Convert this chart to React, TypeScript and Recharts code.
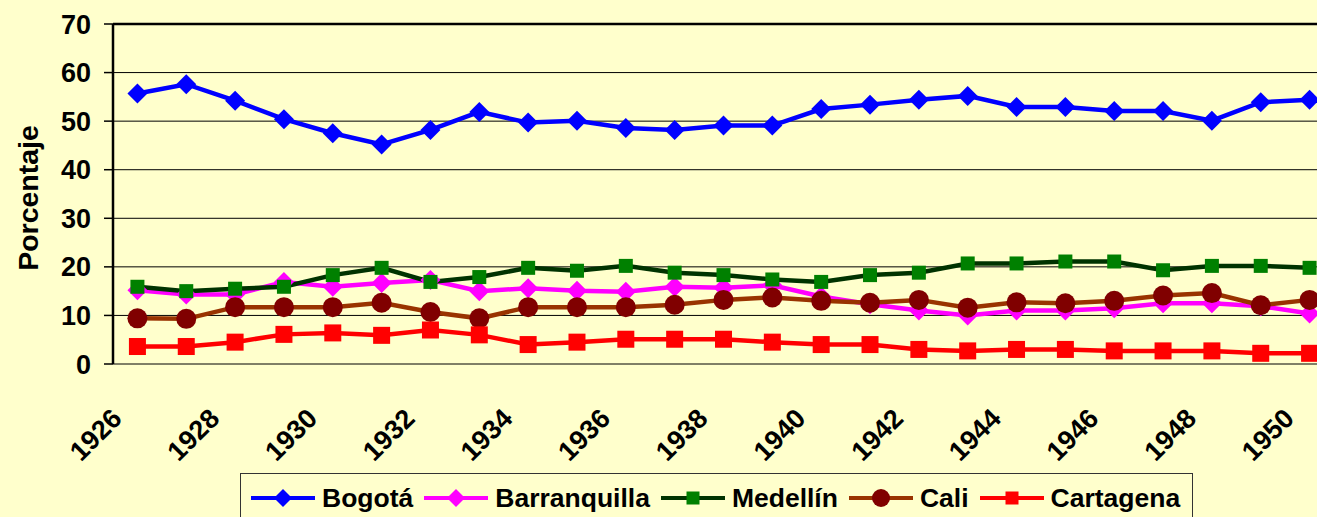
import { CartesianGrid, Legend, Line, LineChart, ReferenceLine, XAxis, YAxis } from "recharts";

const years = [
  1926, 1927, 1928, 1929, 1930, 1931, 1932, 1933, 1934, 1935, 1936, 1937, 1938,
  1939, 1940, 1941, 1942, 1943, 1944, 1945, 1946, 1947, 1948, 1949, 1950,
];
const bogota = [
  55.7, 57.6, 54.2, 50.4, 47.5, 45.2, 48.2, 51.9, 49.7, 50.1, 48.6, 48.2, 49.1,
  49.1, 52.5, 53.4, 54.4, 55.2, 52.9, 52.9, 52.1, 52.1, 50.1, 53.9, 54.4,
];
const barranquilla = [
  15.2, 14.3, 14.3, 16.9, 15.9, 16.7, 17.3, 15.0, 15.6, 15.1, 14.9, 15.9, 15.7,
  16.2, 13.9, 12.3, 11.0, 10.0, 11.0, 11.0, 11.5, 12.5, 12.5, 11.9, 10.4,
];
const medellin = [
  15.9, 15.0, 15.5, 15.9, 18.3, 19.8, 16.9, 17.9, 19.8, 19.2, 20.2, 18.8, 18.3,
  17.4, 16.9, 18.3, 18.8, 20.7, 20.7, 21.1, 21.1, 19.3, 20.2, 20.2, 19.8,
];
const cali = [
  9.4, 9.3, 11.7, 11.7, 11.7, 12.6, 10.7, 9.4, 11.7, 11.7, 11.7, 12.2, 13.2,
  13.7, 13.0, 12.6, 13.2, 11.6, 12.7, 12.5, 13.0, 14.1, 14.6, 12.1, 13.2,
];
const cartagena = [
  3.6, 3.6, 4.5, 6.1, 6.4, 5.9, 7.0, 6.0, 4.0, 4.5, 5.1, 5.1, 5.1,
  4.5, 4.0, 4.0, 3.0, 2.7, 3.0, 3.0, 2.7, 2.7, 2.7, 2.2, 2.2,
];
const yearLabels = [1926, 1928, 1930, 1932, 1934, 1936, 1938, 1940, 1942, 1944, 1946, 1948, 1950];
const yTicks = [0, 10, 20, 30, 40, 50, 60, 70];

const data = years.map((year, i) => ({
  year,
  bogota: bogota[i],
  barranquilla: barranquilla[i],
  medellin: medellin[i],
  cali: cali[i],
  cartagena: cartagena[i],
}));

// tick marks sit between the categories, like the original
const boundaryTicks = [...years.map((y) => y - 0.5), years[years.length - 1] + 0.5];

const FONT = '"Liberation Sans", Arial, sans-serif';
const BG = "#FFFFCC";

type Marker = "diamond" | "square" | "circle";

const series: { key: string; name: string; line: string; fill: string; marker: Marker; size: number }[] = [
  { key: "bogota", name: "Bogotá", line: "#0000FF", fill: "#0000FF", marker: "diamond", size: 10 },
  { key: "barranquilla", name: "Barranquilla", line: "#FF00FF", fill: "#FF00FF", marker: "diamond", size: 10 },
  { key: "medellin", name: "Medellín", line: "#003300", fill: "#008000", marker: "square", size: 7 },
  { key: "cali", name: "Cali", line: "#993300", fill: "#800000", marker: "circle", size: 10 },
  { key: "cartagena", name: "Cartagena", line: "#FF0000", fill: "#FF0000", marker: "square", size: 8.5 },
];

function markerShape(marker: Marker, cx: number, cy: number, s: number, fill: string, key?: any) {
  if (marker === "diamond") {
    return <path key={key} d={`M${cx},${cy - s} L${cx + s},${cy} L${cx},${cy + s} L${cx - s},${cy} Z`} fill={fill} />;
  }
  if (marker === "square") {
    return <rect key={key} x={cx - s} y={cy - s} width={2 * s} height={2 * s} fill={fill} />;
  }
  return <circle key={key} cx={cx} cy={cy} r={s} fill={fill} />;
}

const YearTick = ({ x, y, payload }: any) => (
  <text
    transform={`translate(${x - 14},${y + 56}) rotate(-45)`}
    textAnchor="end"
    fontFamily={FONT}
    fontWeight="bold"
    fontSize={27}
    fill="#000"
  >
    {payload.value}
  </text>
);

const renderLegend = () => (
  <div
    style={{
      display: "flex",
      alignItems: "center",
      height: 50,
      border: "1px solid #333",
      background: BG,
      paddingLeft: 9,
      boxSizing: "border-box",
      fontFamily: FONT,
      fontWeight: "bold",
      fontSize: 26.5,
      color: "#000",
    }}
  >
    {series.map((s) => (
      <div key={s.key} style={{ display: "flex", alignItems: "center", marginRight: 10 }}>
        <svg width={66} height={24}>
          <line x1={1} x2={65} y1={12} y2={12} stroke={s.line} strokeWidth={4} />
          {markerShape(s.marker, 33, 12, s.marker === "square" ? 6.5 : s.marker === "circle" ? 9 : 9, s.fill)}
        </svg>
        <span style={{ marginLeft: 6 }}>{s.name}</span>
      </div>
    ))}
  </div>
);

export default function App() {
  return (
    <div
      style={{
        position: "fixed",
        left: 0,
        top: 0,
        width: 1317,
        height: 517,
        overflow: "hidden",
        background: BG,
      }}
    >
      <LineChart width={1344} height={517} data={data} margin={{ top: 24, right: 10, left: 0, bottom: 0 }}>
        <CartesianGrid horizontal vertical={false} stroke="#000" strokeWidth={1} />
        <XAxis
          xAxisId="marks"
          dataKey="year"
          type="number"
          domain={[1925.5, 1950.5]}
          ticks={boundaryTicks}
          interval={0}
          height={0}
          tickSize={9}
          tickFormatter={() => ""}
          tickLine={{ stroke: "#000", strokeWidth: 2 }}
          axisLine={{ stroke: "#000", strokeWidth: 2.5 }}
        />
        <XAxis
          xAxisId="main"
          dataKey="year"
          type="number"
          domain={[1925.5, 1950.5]}
          ticks={yearLabels}
          interval={0}
          height={153}
          tickSize={0}
          tickMargin={0}
          tickLine={false}
          axisLine={false}
          tick={<YearTick />}
        />
        <YAxis
          domain={[0, 70]}
          ticks={yTicks}
          interval={0}
          width={113}
          tickSize={9}
          tickMargin={13}
          tickLine={{ stroke: "#000", strokeWidth: 1.5 }}
          axisLine={{ stroke: "#000", strokeWidth: 2.5 }}
          tick={{ fill: "#000", fontSize: 27, fontWeight: "bold", fontFamily: FONT }}
          label={{
            value: "Porcentaje",
            angle: -90,
            position: "insideLeft",
            offset: 28,
            dy: 4,
            style: { textAnchor: "middle", fill: "#000", fontSize: 28.5, fontWeight: "bold", fontFamily: FONT },
          }}
        />
        <ReferenceLine y={70} xAxisId="main" stroke="#000" strokeWidth={2.5} />
        {series.map((s) => (
          <Line
            key={s.key}
            xAxisId="main"
            type="linear"
            dataKey={s.key}
            name={s.name}
            stroke={s.line}
            strokeWidth={4.5}
            isAnimationActive={false}
            activeDot={false}
            dot={(p: any) => markerShape(s.marker, p.cx, p.cy, s.size, s.fill, p.index)}
          />
        ))}
        <Legend
          layout="vertical"
          align="center"
          verticalAlign="middle"
          content={renderLegend}
          wrapperStyle={{ left: 240, top: 473, width: 953, height: 50 }}
        />
      </LineChart>
    </div>
  );
}
